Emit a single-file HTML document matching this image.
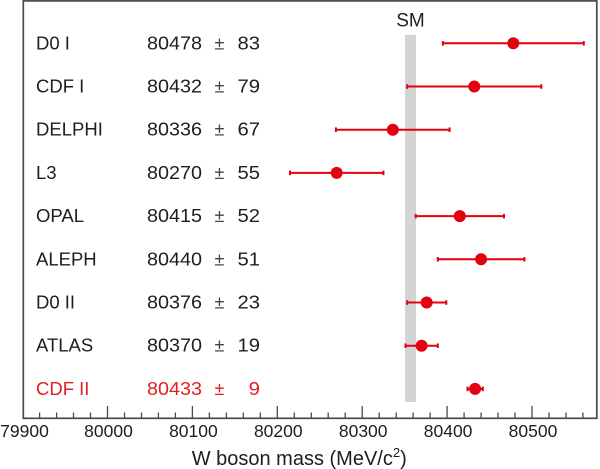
<!DOCTYPE html>
<html>
<head>
<meta charset="utf-8">
<style>
  html,body{margin:0;padding:0;background:#fff;}
  svg{display:block;}
  text{font-family:"Liberation Sans", Arial, sans-serif;}
</style>
</head>
<body>
<svg width="600" height="469" viewBox="0 0 600 469" xmlns="http://www.w3.org/2000/svg">
  <rect x="0" y="0" width="600" height="469" fill="#ffffff"/>
  <!-- SM band -->
  <rect x="405" y="35" width="11" height="367" fill="#d4d4d4"/>
  <text x="410.5" y="26.7" font-size="19" fill="#1e1e1e" text-anchor="middle">SM</text>

  <!-- frame -->
  <rect x="23.3" y="0.9" width="573.5" height="417.4" fill="none" stroke="#4a4a4a" stroke-width="1.7"/>

  <!-- ticks -->
  <g stroke="#4a4a4a" stroke-width="1.3">
    <line x1="107.5" y1="406" x2="107.5" y2="418"/>
    <line x1="192.4" y1="406" x2="192.4" y2="418"/>
    <line x1="277.3" y1="406" x2="277.3" y2="418"/>
    <line x1="362.2" y1="406" x2="362.2" y2="418"/>
    <line x1="447.1" y1="406" x2="447.1" y2="418"/>
    <line x1="532.0" y1="406" x2="532.0" y2="418"/>
    <line x1="39.6" y1="412.5" x2="39.6" y2="418"/>
    <line x1="56.6" y1="412.5" x2="56.6" y2="418"/>
    <line x1="73.5" y1="412.5" x2="73.5" y2="418"/>
    <line x1="90.5" y1="412.5" x2="90.5" y2="418"/>
    <line x1="124.5" y1="412.5" x2="124.5" y2="418"/>
    <line x1="141.5" y1="412.5" x2="141.5" y2="418"/>
    <line x1="158.4" y1="412.5" x2="158.4" y2="418"/>
    <line x1="175.4" y1="412.5" x2="175.4" y2="418"/>
    <line x1="209.4" y1="412.5" x2="209.4" y2="418"/>
    <line x1="226.4" y1="412.5" x2="226.4" y2="418"/>
    <line x1="243.3" y1="412.5" x2="243.3" y2="418"/>
    <line x1="260.3" y1="412.5" x2="260.3" y2="418"/>
    <line x1="294.3" y1="412.5" x2="294.3" y2="418"/>
    <line x1="311.3" y1="412.5" x2="311.3" y2="418"/>
    <line x1="328.2" y1="412.5" x2="328.2" y2="418"/>
    <line x1="345.2" y1="412.5" x2="345.2" y2="418"/>
    <line x1="379.2" y1="412.5" x2="379.2" y2="418"/>
    <line x1="396.2" y1="412.5" x2="396.2" y2="418"/>
    <line x1="413.1" y1="412.5" x2="413.1" y2="418"/>
    <line x1="430.1" y1="412.5" x2="430.1" y2="418"/>
    <line x1="464.1" y1="412.5" x2="464.1" y2="418"/>
    <line x1="481.1" y1="412.5" x2="481.1" y2="418"/>
    <line x1="498.0" y1="412.5" x2="498.0" y2="418"/>
    <line x1="515.0" y1="412.5" x2="515.0" y2="418"/>
    <line x1="549.0" y1="412.5" x2="549.0" y2="418"/>
    <line x1="566.0" y1="412.5" x2="566.0" y2="418"/>
    <line x1="582.9" y1="412.5" x2="582.9" y2="418"/>
  </g>

  <!-- tick labels -->
  <g font-size="17.5" fill="#1e1e1e" text-anchor="middle">
    <text x="24.5" y="437">79900</text>
    <text x="108.5" y="437">80000</text>
    <text x="193.4" y="437">80100</text>
    <text x="278.3" y="437">80200</text>
    <text x="363.2" y="437">80300</text>
    <text x="448.1" y="437">80400</text>
    <text x="533.0" y="437">80500</text>
  </g>
  <text x="191.7" y="465" font-size="20" fill="#1e1e1e">W boson mass (MeV/c<tspan font-size="13" dy="-8">2</tspan><tspan dy="8">)</tspan></text>

  <!-- row labels -->
  <g font-size="18.5" fill="#1e1e1e">
    <text x="36" y="49.3">D0 I</text>
    <text x="36" y="92.5">CDF I</text>
    <text x="36" y="135.7">DELPHI</text>
    <text x="36" y="178.9">L3</text>
    <text x="36" y="222.1">OPAL</text>
    <text x="36" y="265.3">ALEPH</text>
    <text x="36" y="308.5">D0 II</text>
    <text x="36" y="351.7">ATLAS</text>

    <text x="147" y="49.3" textLength="55" lengthAdjust="spacingAndGlyphs">80478</text>
    <text x="147" y="92.5" textLength="55" lengthAdjust="spacingAndGlyphs">80432</text>
    <text x="147" y="135.7" textLength="55" lengthAdjust="spacingAndGlyphs">80336</text>
    <text x="147" y="178.9" textLength="55" lengthAdjust="spacingAndGlyphs">80270</text>
    <text x="147" y="222.1" textLength="55" lengthAdjust="spacingAndGlyphs">80415</text>
    <text x="147" y="265.3" textLength="55" lengthAdjust="spacingAndGlyphs">80440</text>
    <text x="147" y="308.5" textLength="55" lengthAdjust="spacingAndGlyphs">80376</text>
    <text x="147" y="351.7" textLength="55" lengthAdjust="spacingAndGlyphs">80370</text>

    <g text-anchor="middle" font-size="18" fill="#444">
      <text x="219.5" y="49.3">±</text>
      <text x="219.5" y="92.5">±</text>
      <text x="219.5" y="135.7">±</text>
      <text x="219.5" y="178.9">±</text>
      <text x="219.5" y="222.1">±</text>
      <text x="219.5" y="265.3">±</text>
      <text x="219.5" y="308.5">±</text>
      <text x="219.5" y="351.7">±</text>
    </g>

    <text x="237.5" y="49.3" textLength="22.5" lengthAdjust="spacingAndGlyphs">83</text>
    <text x="237.5" y="92.5" textLength="22.5" lengthAdjust="spacingAndGlyphs">79</text>
    <text x="237.5" y="135.7" textLength="22.5" lengthAdjust="spacingAndGlyphs">67</text>
    <text x="237.5" y="178.9" textLength="22.5" lengthAdjust="spacingAndGlyphs">55</text>
    <text x="237.5" y="222.1" textLength="22.5" lengthAdjust="spacingAndGlyphs">52</text>
    <text x="237.5" y="265.3" textLength="22.5" lengthAdjust="spacingAndGlyphs">51</text>
    <text x="237.5" y="308.5" textLength="22.5" lengthAdjust="spacingAndGlyphs">23</text>
    <text x="237.5" y="351.7" textLength="22.5" lengthAdjust="spacingAndGlyphs">19</text>
  </g>
  <g font-size="18.5" fill="#e31e24">
    <text x="36" y="394.9">CDF II</text>
    <text x="147" y="394.9" textLength="55" lengthAdjust="spacingAndGlyphs">80433</text>
    <text x="219.5" y="394.9" text-anchor="middle" font-size="18">±</text>
    <text x="248.7" y="394.9" textLength="11.3" lengthAdjust="spacingAndGlyphs">9</text>
  </g>

  <!-- error bars -->
  <g stroke="#e3000f" stroke-width="2" fill="none">
    <line x1="442.9" y1="43.3" x2="583.8" y2="43.3"/>
    <line x1="407.2" y1="86.5" x2="541.3" y2="86.5"/>
    <line x1="335.9" y1="129.7" x2="449.6" y2="129.7"/>
    <line x1="290.0" y1="172.9" x2="383.4" y2="172.9"/>
    <line x1="415.7" y1="216.1" x2="504.0" y2="216.1"/>
    <line x1="437.8" y1="259.3" x2="524.4" y2="259.3"/>
    <line x1="407.2" y1="302.5" x2="446.3" y2="302.5"/>
    <line x1="405.5" y1="345.7" x2="437.8" y2="345.7"/>
    <line x1="467.5" y1="388.9" x2="482.8" y2="388.9"/>
  </g>
  <g stroke="#e3000f" stroke-width="2">
    <line x1="442.9" y1="41" x2="442.9" y2="45.6"/><line x1="583.8" y1="41" x2="583.8" y2="45.6"/>
    <line x1="407.2" y1="84.2" x2="407.2" y2="88.8"/><line x1="541.3" y1="84.2" x2="541.3" y2="88.8"/>
    <line x1="335.9" y1="127.4" x2="335.9" y2="132"/><line x1="449.6" y1="127.4" x2="449.6" y2="132"/>
    <line x1="290.0" y1="170.6" x2="290.0" y2="175.2"/><line x1="383.4" y1="170.6" x2="383.4" y2="175.2"/>
    <line x1="415.7" y1="213.8" x2="415.7" y2="218.4"/><line x1="504.0" y1="213.8" x2="504.0" y2="218.4"/>
    <line x1="437.8" y1="257" x2="437.8" y2="261.6"/><line x1="524.4" y1="257" x2="524.4" y2="261.6"/>
    <line x1="407.2" y1="300.2" x2="407.2" y2="304.8"/><line x1="446.3" y1="300.2" x2="446.3" y2="304.8"/>
    <line x1="405.5" y1="343.4" x2="405.5" y2="348"/><line x1="437.8" y1="343.4" x2="437.8" y2="348"/>
    <line x1="467.5" y1="386.6" x2="467.5" y2="391.2"/><line x1="482.8" y1="386.6" x2="482.8" y2="391.2"/>
  </g>
  <g fill="#e3000f">
    <circle cx="513.3" cy="43.3" r="6"/>
    <circle cx="474.3" cy="86.5" r="6"/>
    <circle cx="392.8" cy="129.7" r="6"/>
    <circle cx="336.7" cy="172.9" r="6"/>
    <circle cx="459.8" cy="216.1" r="6"/>
    <circle cx="481.1" cy="259.3" r="6"/>
    <circle cx="426.7" cy="302.5" r="6"/>
    <circle cx="421.6" cy="345.7" r="6"/>
    <circle cx="475.1" cy="388.9" r="6"/>
  </g>
</svg>
</body>
</html>
